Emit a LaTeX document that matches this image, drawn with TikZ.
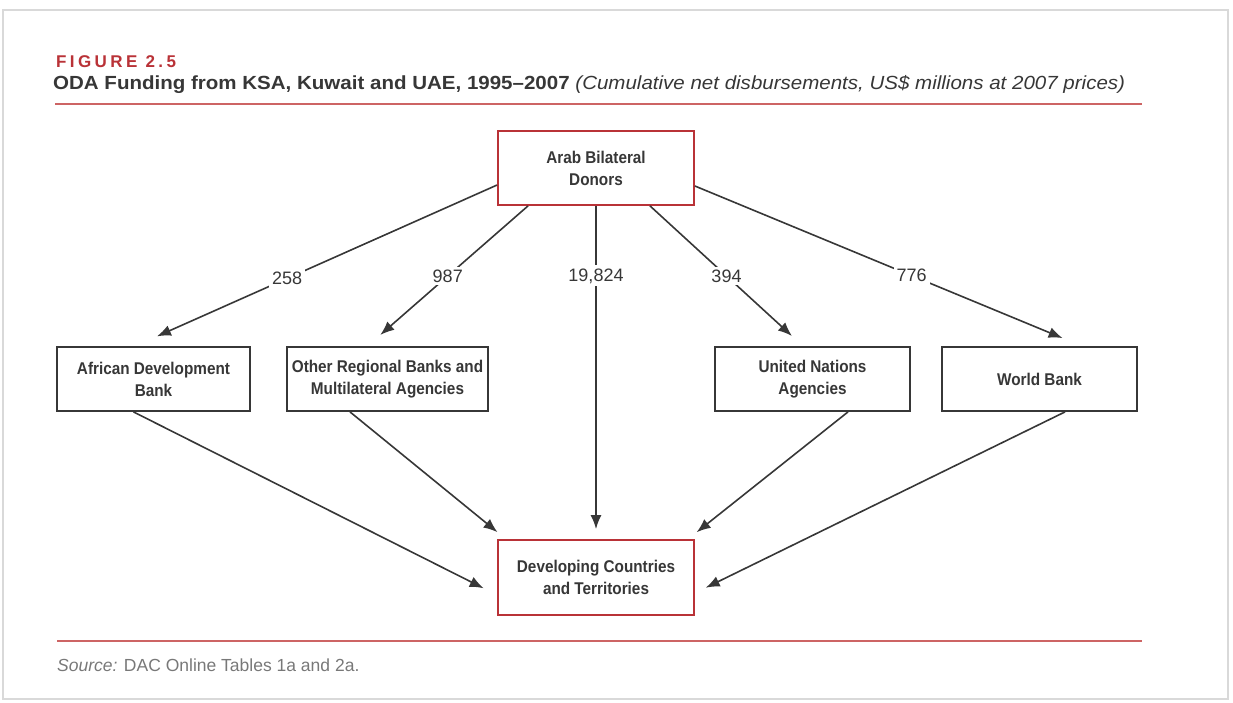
\documentclass[tikz,border=0pt]{standalone}
\usepackage{fontspec}
\setmainfont{Liberation Sans}
\newfontfamily\figfont[LetterSpace=20]{Liberation Sans}
\newfontfamily\titlefont[FakeStretch=1.08]{Liberation Sans}
\newfontfamily\boxfont[FakeStretch=0.9]{Liberation Sans}
\usetikzlibrary{arrows.meta}

\definecolor{rosso}{RGB}{185,50,55}
\definecolor{rigarossa}{RGB}{205,100,100}
\definecolor{grigio}{RGB}{55,55,55}
\definecolor{grigiochiaro}{RGB}{120,120,120}

\tikzset{
  scatola/.style={draw=grigio, line width=1.8pt, fill=white, minimum height=64pt,
    align=center, inner sep=0pt, text=grigio,
    font=\boxfont\bfseries\fontsize{17}{22}\selectfont},
  scatolarossa/.style={scatola, draw=rosso, minimum width=196pt, minimum height=74pt},
  freccia/.style={-{Latex[length=14pt,width=11pt]}, line width=1.6pt, draw=grigio},
  cifra/.style={fill=white, inner sep=3pt, text=grigio,
    font=\fontsize{18}{20}\selectfont},
}

\begin{document}
\begin{tikzpicture}[x=1pt, y=-1pt]
    % Cornice della pagina
    \useasboundingbox (0,0) rectangle (1233,702);
    \draw[black!15, line width=1.2pt] (3,10) rectangle (1228,699);
    % Titolo
    \node[anchor=base west, inner sep=0pt, text=rosso, font=\figfont\bfseries\fontsize{17}{18}\selectfont]
        (figura) at (56,67) {FIGURE 2.5};
    \node[anchor=base west, inner sep=0pt, text=grigio, font=\titlefont\fontsize{19}{20}\selectfont]
        (titolo) at (53,89) {\textbf{ODA Funding from KSA, Kuwait and UAE, 1995–2007}
        \textit{(Cumulative net disbursements, US\$ millions at 2007 prices)}};
    \draw[rigarossa, line width=1.6pt] (55,104) -- (1142,104);
    % Scatole
    \node[scatolarossa] (arab) at (596,168) {Arab Bilateral\\Donors};
    \node[scatola, minimum width=193pt] (adb) at (153.5,379) {African Development\\Bank};
    \node[scatola, minimum width=201pt] (altre) at (387.5,379) {Other Regional Banks and\\Multilateral Agencies};
    \node[scatola, minimum width=195pt] (onu) at (812.5,379) {United Nations\\Agencies};
    \node[scatola, minimum width=195pt] (bm) at (1039.5,379) {World Bank};
    \node[scatolarossa, minimum height=75pt] (paesi) at (596,577.5) {Developing Countries\\and Territories};
    % Frecce dai donatori
    \draw[freccia, shorten >=24pt] ([yshift=-17pt]arab.west) -- node[cifra, pos=0.58] {258} ([xshift=-18.5pt]adb.north);
    \draw[freccia, shorten >=17pt] ([xshift=-68pt]arab.south) -- node[cifra, pos=0.5] {987} ([xshift=-20pt]altre.north);
    \draw[freccia, shorten >=10pt] (arab.south) -- node[cifra, pos=0.21] {19,824} (paesi.north);
    \draw[freccia, shorten >=15pt] ([xshift=54pt]arab.south) -- node[cifra, pos=0.5] {394} ([xshift=-9.5pt]onu.north);
    \draw[freccia, shorten >=21pt] ([yshift=-18pt]arab.east) -- node[cifra, pos=0.56] {776} ([xshift=42.5pt]bm.north);
    % Frecce verso i paesi
    \draw[freccia, shorten >=15pt] ([xshift=-20pt]adb.south) -- ([yshift=-17.5pt]paesi.west);
    \draw[freccia, shorten >=11pt] ([xshift=-37.5pt]altre.south) -- ([xshift=-90pt]paesi.north);
    \draw[freccia, shorten >=11pt] ([xshift=35.5pt]onu.south) -- ([xshift=92pt]paesi.north);
    \draw[freccia, shorten >=12pt] ([xshift=25.5pt]bm.south) -- ([yshift=-15.5pt]paesi.east);
    % Fonte
    \draw[rigarossa, line width=1.6pt] (57,641) -- (1142,641);
    \node[anchor=base west, inner sep=0pt, text=grigiochiaro, font=\fontsize{17.5}{18}\selectfont]
        (fonte) at (57,671) {\textit{Source:} DAC Online Tables 1a and 2a.};
\end{tikzpicture}
\end{document}
